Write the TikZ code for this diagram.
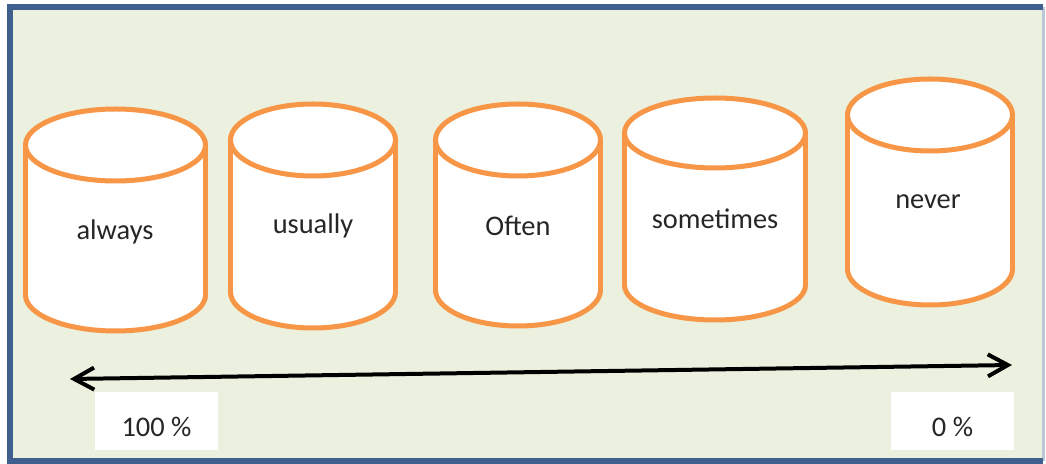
\documentclass[tikz,border=0pt]{standalone}
\usepackage{fontspec}
\setmainfont{Carlito}
\usetikzlibrary{arrows.meta}
\definecolor{paper}{HTML}{EBF1DE}
\definecolor{frameblue}{HTML}{3F5F8F}
\definecolor{drumorange}{HTML}{F79646}
\tikzset{
  drum/.style={draw=drumorange, line width=2.5pt, fill=white},
  drumside/.style={drumorange, line width=2.5pt},
  word/.style={text=black!85, font=\fontsize{14.2}{17}\selectfont},
  pctbox/.style={fill=white, inner sep=0pt, minimum width=61.5pt,
    text height=22.5pt, text depth=6.5pt, anchor=base, text=black!85,
    font=\fontsize{14.2}{17}\selectfont},
  scalearrow/.style={line width=2pt, {Straight Barb[length=10pt,width=11pt]}-{Straight Barb[length=10pt,width=11pt]}}
}
\begin{document}
\begin{tikzpicture}[x=0.5pt, y=-0.5pt]
            \useasboundingbox (0,0) rectangle (1046,464);
            \fill[white] (0,0) rectangle (1046,464);
            \fill[paper] (10,7) rectangle (1043,461);
            \draw[frameblue!35, line width=1.5pt] (1043,7)--(1043,461);
            \draw[frameblue, line width=2.8pt] (1043,7)--(10,7)--(10,461)--(1043,461);
            % always
            \draw[drum] (115.5,295) ellipse (90 and 36);
            \fill[white] (25.5,145) rectangle (205.5,295);
            \draw[drumside] (25.5,145)--(25.5,295) (205.5,145)--(205.5,295);
            \draw[drum] (115.5,145) ellipse (90 and 36);
            \node[word] (always) at (115,232) {always};
            % usually
            \draw[drum] (313,292) ellipse (82.5 and 36);
            \fill[white] (230.5,140) rectangle (395.5,292);
            \draw[drumside] (230.5,140)--(230.5,292) (395.5,140)--(395.5,292);
            \draw[drum] (313,140) ellipse (82.5 and 36);
            \node[word] (usually) at (313,226) {usually};
            % often
            \draw[drum] (518,290) ellipse (82.5 and 36);
            \fill[white] (435.5,140) rectangle (600.5,290);
            \draw[drumside] (435.5,140)--(435.5,290) (600.5,140)--(600.5,290);
            \draw[drum] (518,140) ellipse (82.5 and 36);
            \node[word] (often) at (518,226) {Often};
            % sometimes
            \draw[drum] (715,285) ellipse (90.5 and 35);
            \fill[white] (624.5,133) rectangle (805.5,285);
            \draw[drumside] (624.5,133)--(624.5,285) (805.5,133)--(805.5,285);
            \draw[drum] (715,133) ellipse (90.5 and 35);
            \node[word] (sometimes) at (715,219) {sometimes};
            % never
            \draw[drum] (930,269) ellipse (82.5 and 36);
            \fill[white] (847.5,115) rectangle (1012.5,269);
            \draw[drumside] (847.5,115)--(847.5,269) (1012.5,115)--(1012.5,269);
            \draw[drum] (930,115) ellipse (82.5 and 36);
            \node[word] (never) at (928,202) {never};
            % scale
            \coordinate (full end) at (70,379);
            \coordinate (zero end) at (1012,365);
            \draw[scalearrow] (full end)--(zero end);
            \node[pctbox] (full) at (156.5,437) {100 \%};
            \node[pctbox] (zero) at (952.5,437) {0 \%};
        \end{tikzpicture}
\end{document}
